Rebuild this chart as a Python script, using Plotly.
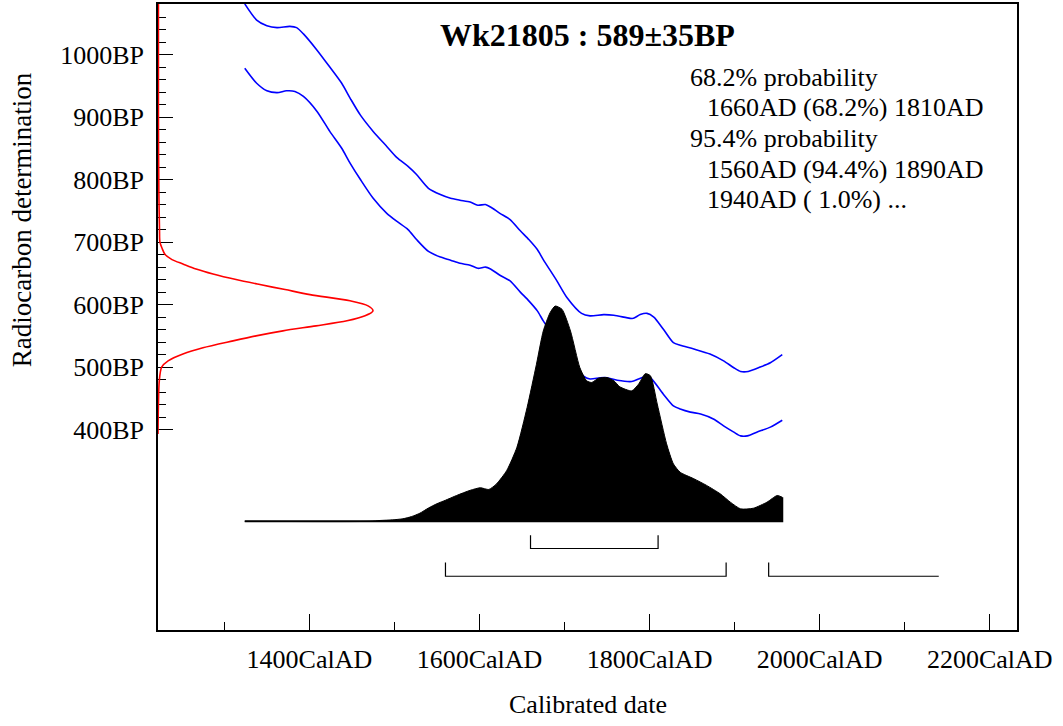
import plotly.graph_objects as go

# ---------------- data ----------------
# Calibration curve envelope, upper line (cal year AD, radiocarbon BP)
upper_years = [1324, 1338, 1350, 1362, 1377, 1385, 1393, 1409, 1424, 1438, 1448, 1460, 1475, 1491,
               1503, 1516, 1526, 1540, 1554, 1566, 1577, 1589, 1598, 1607, 1613, 1624, 1636, 1648,
               1658, 1668, 1675, 1691, 1703, 1720, 1730, 1746, 1758, 1777, 1781, 1789, 1797, 1805,
               1816, 1828, 1836, 1852, 1871, 1887, 1899, 1907, 1916, 1930, 1942, 1956]
upper_bp = [1081, 1055, 1046, 1043, 1045, 1043, 1033, 1007, 980, 954, 930, 903, 877, 853,
            835, 821, 808, 786, 776, 770, 767, 764, 759, 760, 756, 746, 736, 718,
            704, 688, 672, 638, 611, 586, 582, 584, 583, 578, 578, 584, 586, 580,
            561, 539, 535, 529, 521, 510, 499, 493, 493, 500, 507, 520]

# Calibration curve envelope, lower line
lower_years = [1324, 1338, 1350, 1362, 1373, 1383, 1393, 1409, 1424, 1438, 1448, 1460, 1475, 1491,
               1503, 1516, 1526, 1540, 1554, 1566, 1577, 1589, 1598, 1607, 1613, 1624, 1636, 1648,
               1658, 1668, 1675, 1691, 1707, 1722, 1730, 1742, 1750, 1762, 1779, 1787, 1795, 1801,
               1816, 1828, 1836, 1848, 1860, 1875, 1887, 1899, 1907, 1915, 1926, 1942, 1956]
lower_bp = [978, 954, 942, 939, 942, 941, 933, 909, 877, 850, 826, 800, 770, 746,
            733, 720, 704, 685, 676, 671, 666, 663, 658, 660, 657, 647, 638, 620,
            606, 590, 574, 542, 513, 486, 481, 483, 483, 479, 477, 481, 485, 483,
            457, 438, 433, 428, 425, 417, 406, 396, 390, 390, 396, 404, 415]

# Radiocarbon measurement likelihood (BP, relative density)
meas_bp = [1085, 900, 780, 720, 700, 690, 680, 672, 665, 657, 649, 640, 632, 624, 616, 606,
           598, 590, 582, 574, 566, 558, 550, 542, 531, 521, 510, 500, 478, 440, 393]
meas_dens = [0.002, 0.002, 0.004, 0.007, 0.009, 0.019, 0.033, 0.065, 0.116, 0.177, 0.256, 0.363,
             0.474, 0.591, 0.707, 0.893, 0.977, 1.0, 0.963, 0.879, 0.735, 0.581, 0.456, 0.349,
             0.209, 0.116, 0.047, 0.017, 0.006, 0.002, 0.0]

# Calibrated date distribution (cal year AD, relative probability)
cal_years = [1324, 1471, 1483, 1498, 1510, 1520, 1530, 1540, 1550, 1560, 1573, 1589, 1601, 1611,
             1620, 1632, 1644, 1656, 1667, 1675, 1683, 1689, 1697, 1707, 1718, 1726, 1732, 1740,
             1750, 1758, 1765, 1779, 1787, 1795, 1801, 1809, 1820, 1828, 1836, 1852, 1867, 1883,
             1895, 1907, 1922, 1938, 1950, 1956]
cal_prob = [0.0, 0.0, 0.004, 0.007, 0.012, 0.022, 0.038, 0.062, 0.082, 0.098, 0.120, 0.144, 0.156,
            0.148, 0.174, 0.236, 0.344, 0.529, 0.730, 0.884, 0.969, 1.0, 0.985, 0.884, 0.714,
            0.653, 0.645, 0.665, 0.668, 0.653, 0.625, 0.606, 0.637, 0.686, 0.676, 0.545, 0.360,
            0.267, 0.228, 0.198, 0.167, 0.128, 0.089, 0.058, 0.061, 0.089, 0.120, 0.112]

# Highest probability density ranges
range68_start = [1660]
range68_end = [1810]
range95_start = [1560, 1940]
range95_end = [1890, 2140]
range95_closed_end = [True, False]

# Axis ticks
x_major = [1400, 1600, 1800, 2000, 2200]
x_labels = ["1400CalAD", "1600CalAD", "1800CalAD", "2000CalAD", "2200CalAD"]
x_minor = [1300, 1500, 1700, 1900, 2100]
y_major = [400, 500, 600, 700, 800, 900, 1000]
y_labels = ["400BP", "500BP", "600BP", "700BP", "800BP", "900BP", "1000BP"]
y_minor = list(range(400, 1081, 20))

title_text = "Wk21805 : 589±35BP"
prob_lines = ["68.2% probability", "1660AD (68.2%) 1810AD", "95.4% probability",
              "1560AD (94.4%) 1890AD", "1940AD ( 1.0%) ..."]
prob_indent = [False, True, False, True, True]

# ---------------- layout constants ----------------
W, H = 1063, 726
ML, MR, MT, MB = 158, 46, 2, 96
PW, PH = W - ML - MR, H - MT - MB
FONT = "Liberation Serif, Times New Roman, serif"


def px_x(px):
    return (px - ML) / PW


def px_y(py):
    return (H - MB - py) / PH


fig = go.Figure()

# measurement likelihood (red)
fig.add_trace(go.Scatter(x=meas_dens, y=meas_bp, xaxis="x2", yaxis="y", mode="lines",
                         line=dict(color="#ff0000", width=1.6, shape="spline", smoothing=0.8),
                         hoverinfo="skip"))

# calibration curve
fig.add_trace(go.Scatter(x=upper_years, y=upper_bp, mode="lines",
                         line=dict(color="#0000ff", width=1.6, shape="spline", smoothing=0.7),
                         hoverinfo="skip"))
fig.add_trace(go.Scatter(x=lower_years, y=lower_bp, mode="lines",
                         line=dict(color="#0000ff", width=1.6, shape="spline", smoothing=0.7),
                         hoverinfo="skip"))

# calibrated distribution (black)
fig.add_trace(go.Scatter(x=cal_years, y=cal_prob, xaxis="x", yaxis="y2", mode="lines",
                         fill="tozeroy", fillcolor="#000000",
                         line=dict(color="#000000", width=1.0, shape="spline", smoothing=0.6),
                         hoverinfo="skip"))
# baseline and closing edge of the distribution
fig.add_trace(go.Scatter(x=[cal_years[0], cal_years[-1], cal_years[-1]],
                         y=[0.0, 0.0, cal_prob[-1]], xaxis="x", yaxis="y2", mode="lines",
                         line=dict(color="#000000", width=2.0), hoverinfo="skip"))

# range bars
BAR68_Y, BAR68_TOP = -0.126, -0.065
BAR95_Y, BAR95_TOP = -0.255, -0.191
for s, e in zip(range68_start, range68_end):
    fig.add_trace(go.Scatter(x=[s, s, e, e], y=[BAR68_TOP, BAR68_Y, BAR68_Y, BAR68_TOP],
                             xaxis="x", yaxis="y2", mode="lines",
                             line=dict(color="#000000", width=1.2), hoverinfo="skip"))
for s, e, closed in zip(range95_start, range95_end, range95_closed_end):
    xs = [s, s, e] + ([e] if closed else [])
    ys = [BAR95_TOP, BAR95_Y, BAR95_Y] + ([BAR95_TOP] if closed else [])
    fig.add_trace(go.Scatter(x=xs, y=ys, xaxis="x", yaxis="y2", mode="lines",
                             line=dict(color="#000000", width=1.2), hoverinfo="skip"))

annotations = [
    dict(text="<b>%s</b>" % title_text, x=0.5, y=px_y(33), xref="paper", yref="paper",
         xanchor="center", yanchor="middle", showarrow=False,
         font=dict(family=FONT, size=32, color="#000000")),
    dict(text="Calibrated date", x=0.5, y=px_y(705), xref="paper", yref="paper",
         xanchor="center", yanchor="middle", showarrow=False,
         font=dict(family=FONT, size=26, color="#000000")),
    dict(text="Radiocarbon determination", x=px_x(22), y=px_y(219), xref="paper", yref="paper",
         xanchor="center", yanchor="middle", showarrow=False, textangle=-90,
         font=dict(family=FONT, size=27, color="#000000")),
]
line_y = [76, 106, 137, 168, 198]
for txt, ind, py in zip(prob_lines, prob_indent, line_y):
    annotations.append(dict(text=txt, x=px_x(705 if ind else 688), y=px_y(py), xref="paper",
                            yref="paper", xanchor="left", yanchor="middle", showarrow=False,
                            font=dict(family=FONT, size=26, color="#000000")))

# y2 range: baseline at py=521, peak (1.0) at py=305
base_py, peak_py = 521, 305
unit = base_py - peak_py
y2_lo = -((H - MB) - base_py) / unit
y2_hi = (base_py - MT) / unit

fig.update_layout(
    width=W, height=H,
    margin=dict(l=ML, r=MR, t=MT, b=MB, pad=0),
    paper_bgcolor="white", plot_bgcolor="white",
    showlegend=False,
    font=dict(family=FONT, size=26, color="#000000"),
    xaxis=dict(range=[1222, 2232], showgrid=False, zeroline=False,
               showline=True, linecolor="#000000", linewidth=1.5, mirror=True,
               ticks="inside", tickvals=x_major, ticktext=x_labels, ticklen=16,
               tickwidth=1.3, tickcolor="#000000",
               minor=dict(tickvals=x_minor, ticks="inside", ticklen=8, tickwidth=1.3,
                          tickcolor="#000000", showgrid=False),
               tickfont=dict(family=FONT, size=26, color="#000000"),
               ticklabelstandoff=5),
    yaxis=dict(range=[79.5, 1080.8], showgrid=False, zeroline=False,
               showline=True, linecolor="#000000", linewidth=1.5, mirror=True,
               ticks="inside", tickvals=y_major, ticktext=y_labels, ticklen=15,
               tickwidth=1.3, tickcolor="#000000",
               minor=dict(tickvals=y_minor, ticks="inside", ticklen=8, tickwidth=1.3,
                          tickcolor="#000000", showgrid=False),
               tickfont=dict(family=FONT, size=26, color="#000000"),
               ticklabelstandoff=7, layer="below traces"),
    xaxis2=dict(overlaying="x", anchor="y", range=[0, PW / 215.0], visible=False),
    yaxis2=dict(overlaying="y", anchor="x", range=[y2_lo, y2_hi], visible=False),
    annotations=annotations,
)

fig.write_html("out.html", config={"displayModeBar": False},
               post_script="document.body.style.margin='0px';document.body.style.padding='0px';")
